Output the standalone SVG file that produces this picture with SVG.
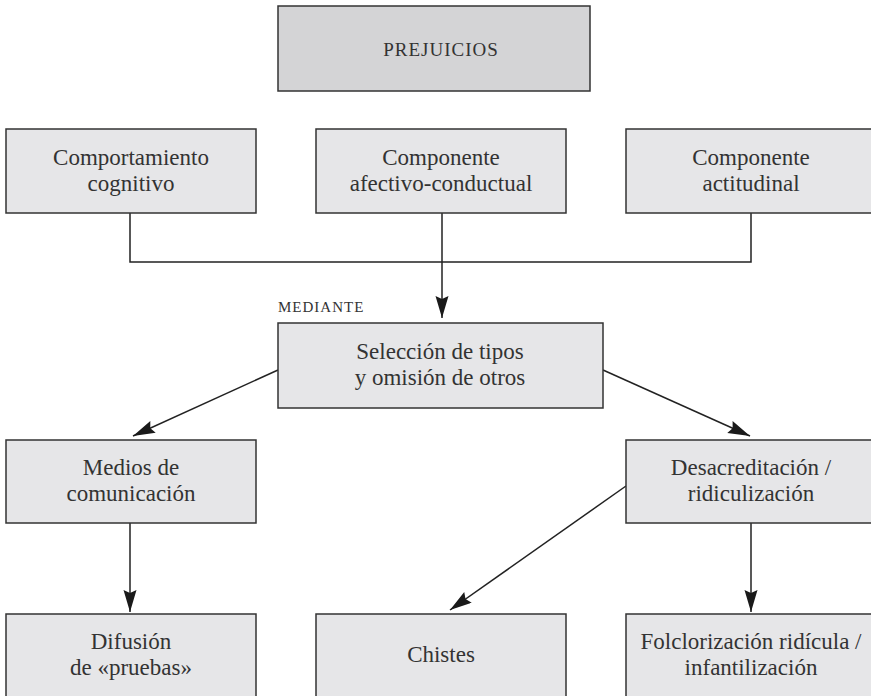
<svg xmlns="http://www.w3.org/2000/svg" width="871" height="696" viewBox="0 0 871 696">
<style>
.box{fill:#e6e6e8;stroke:#333;stroke-width:1.5}
.top{fill:#d4d4d6;stroke:#333;stroke-width:1.5}
.t{font-size:23px;fill:#333;text-anchor:middle}
.caps{fill:#333}
.c{fill:none;stroke:#222;stroke-width:1.5}
</style>
<defs>
<marker id="ah" markerUnits="userSpaceOnUse" markerWidth="24" markerHeight="14" refX="22" refY="6.5" orient="auto">
<path d="M0,0 L22,6.5 L0,13 L3,6.5 z" fill="#1a1a1a"/>
</marker>
</defs>
<rect width="871" height="696" fill="#fff"/>
<g id="connectors">
<polyline class="c" points="130,213 130,262 751,262 751,213"/>
<line class="c" x1="442" y1="213" x2="442" y2="318" marker-end="url(#ah)"/>
<line class="c" x1="278" y1="370" x2="133" y2="436" marker-end="url(#ah)"/>
<line class="c" x1="603" y1="370" x2="750" y2="436" marker-end="url(#ah)"/>
<line class="c" x1="130" y1="523" x2="130" y2="612" marker-end="url(#ah)"/>
<line class="c" x1="751" y1="523" x2="751" y2="612" marker-end="url(#ah)"/>
<line class="c" x1="626" y1="486" x2="450" y2="610" marker-end="url(#ah)"/>
</g>
<g font-family="'Liberation Serif', 'Times New Roman', 'DejaVu Serif', serif">
<g id="prejuicios">
<rect class="top" x="278" y="6" width="312" height="85"/>
<text class="caps" x="441" y="56" font-size="19" letter-spacing="1" text-anchor="middle">PREJUICIOS</text>
</g>
<g id="comportamiento">
<rect class="box" x="6" y="129" width="250" height="84"/>
<text class="t" x="131" y="165">Comportamiento</text>
<text class="t" x="131" y="191">cognitivo</text>
</g>
<g id="afectivo">
<rect class="box" x="316" y="129" width="250" height="84"/>
<text class="t" x="441" y="165">Componente</text>
<text class="t" x="441" y="191">afectivo-conductual</text>
</g>
<g id="actitudinal">
<rect class="box" x="626" y="129" width="252" height="84"/>
<text class="t" x="751" y="165">Componente</text>
<text class="t" x="751" y="191">actitudinal</text>
</g>
<g id="mediante">
<text class="caps" x="278" y="312" font-size="15" letter-spacing="1">MEDIANTE</text>
</g>
<g id="seleccion">
<rect class="box" x="278" y="323" width="325" height="85"/>
<text class="t" x="440" y="359">Selección de tipos</text>
<text class="t" x="440" y="385">y omisión de otros</text>
</g>
<g id="medios">
<rect class="box" x="6" y="440" width="250" height="83"/>
<text class="t" x="131" y="475">Medios de</text>
<text class="t" x="131" y="501">comunicación</text>
</g>
<g id="desacreditacion">
<rect class="box" x="626" y="440" width="252" height="83"/>
<text class="t" x="751" y="475">Desacreditación /</text>
<text class="t" x="751" y="501">ridiculización</text>
</g>
<g id="difusion">
<rect class="box" x="6" y="614" width="250" height="90"/>
<text class="t" x="131" y="649">Difusión</text>
<text class="t" x="131" y="675">de «pruebas»</text>
</g>
<g id="chistes">
<rect class="box" x="316" y="614" width="250" height="90"/>
<text class="t" x="441" y="662">Chistes</text>
</g>
<g id="folclorizacion">
<rect class="box" x="626" y="614" width="252" height="90"/>
<text class="t" x="751" y="649">Folclorización ridícula /</text>
<text class="t" x="751" y="675">infantilización</text>
</g>
</g>
</svg>
